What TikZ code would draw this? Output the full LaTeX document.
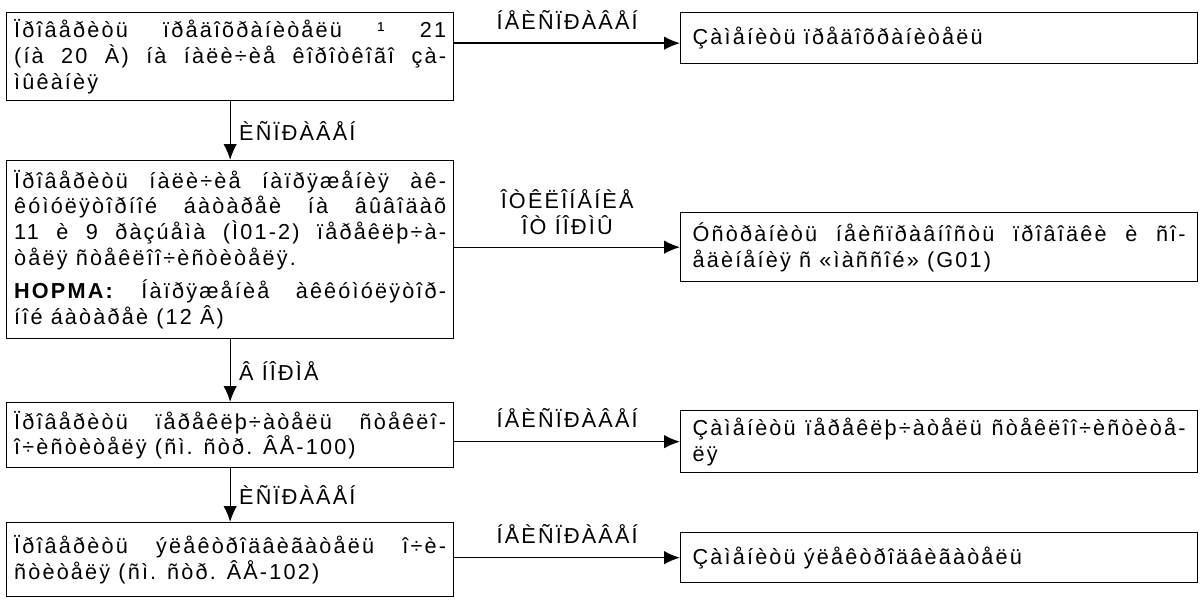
\documentclass[tikz,border=0pt]{standalone}
\usepackage{fontspec}
\setmainfont{Liberation Sans}[LetterSpace=10]
\usetikzlibrary{arrows.meta}
\begin{document}
\begin{tikzpicture}[x=0.6pt,y=-0.6pt,
  every node/.style={font=\fontsize{13}{15.5}\selectfont},
  lbox/.style={draw,line width=0.8pt,anchor=north west,inner xsep=4.5pt,inner ysep=2pt,
     text width=259.2pt,align=justify,minimum width=268.2pt},
  rbox/.style={draw,line width=0.8pt,anchor=north west,inner xsep=7.2pt,inner ysep=2pt,
     text width=295.8pt,align=justify,minimum width=310.2pt},
  lbl/.style={inner sep=3pt,align=center},
  arr/.style={line width=0.8pt,-{Latex[length=9.5pt,width=8pt]}}]
\useasboundingbox (0,0) rectangle (1202,599);
\hyphenpenalty=10000
% left column
\node[lbox,minimum height=52.8pt] (b1) at (6,12)
 {Ïðîâåðèòü ïðåäîõðàíèòåëü ¹ 21\linebreak (íà 20 À) íà íàëè÷èå êîðîòêîãî çà-\linebreak ìûêàíèÿ};
\node[lbox,minimum height=106.8pt] (b2) at (6,160)
 {Ïðîâåðèòü íàëè÷èå íàïðÿæåíèÿ àê-\linebreak êóìóëÿòîðíîé áàòàðåè íà âûâîäàõ\linebreak 11 è 9 ðàçúåìà (Ì01-2) ïåðåêëþ÷à-\linebreak òåëÿ ñòåêëîî÷èñòèòåëÿ.\par\vspace{4.5pt}
 \textbf{HOPMA:} Íàïðÿæåíèå àêêóìóëÿòîð-\linebreak íîé áàòàðåè (12 Â)};
\node[lbox,minimum height=39pt] (b3) at (6,402)
 {Ïðîâåðèòü ïåðåêëþ÷àòåëü ñòåêëî-\linebreak î÷èñòèòåëÿ (ñì. ñòð. ÂÅ-100)};
\node[lbox,minimum height=44.4pt] (b4) at (6,522)
 {Ïðîâåðèòü ýëåêòðîäâèãàòåëü î÷è-\linebreak ñòèòåëÿ (ñì. ñòð. ÂÅ-102)};
% right column
\node[rbox,minimum height=30.6pt] (r1) at (680,12) {Çàìåíèòü ïðåäîõðàíèòåëü};
\node[rbox,minimum height=41.4pt] (r2) at (680,212)
 {Óñòðàíèòü íåèñïðàâíîñòü ïðîâîäêè è ñî-\linebreak åäèíåíèÿ ñ «ìàññîé» (G01)};
\node[rbox,minimum height=37.2pt] (r3) at (680,410)
 {Çàìåíèòü ïåðåêëþ÷àòåëü ñòåêëîî÷èñòèòå-\linebreak ëÿ};
\node[rbox,minimum height=30pt] (r4) at (680,532) {Çàìåíèòü ýëåêòðîäâèãàòåëü};
% vertical connectors
\draw[arr] (b1.south) -- node[lbl,right,xshift=2pt] {ÈÑÏÐÀÂÅÍ} (b2.north);
\draw[arr] (b2.south) -- node[lbl,right,xshift=2pt] {Â ÍÎÐÌÅ} (b3.north);
\draw[arr] (b3.south) -- node[lbl,right,xshift=2pt] {ÈÑÏÐÀÂÅÍ} (b4.north);
% horizontal connectors
\draw[arr] ([yshift=-3pt]b1.east |- r1.west) -- node[lbl,above=5pt] {ÍÅÈÑÏÐÀÂÅÍ} ([yshift=-3pt]r1.west);
\draw[arr] (b2.east |- r2.west) -- node[lbl,above=4pt] {ÎÒÊËÎÍÅÍÈÅ\\ÎÒ ÍÎÐÌÛ} (r2.west);
\draw[arr] (b3.east |- r3.west) -- node[lbl,above=5pt] {ÍÅÈÑÏÐÀÂÅÍ} (r3.west);
\draw[arr] (b4.east |- r4.west) -- node[lbl,above=5pt] {ÍÅÈÑÏÐÀÂÅÍ} (r4.west);
\end{tikzpicture}
\end{document}
